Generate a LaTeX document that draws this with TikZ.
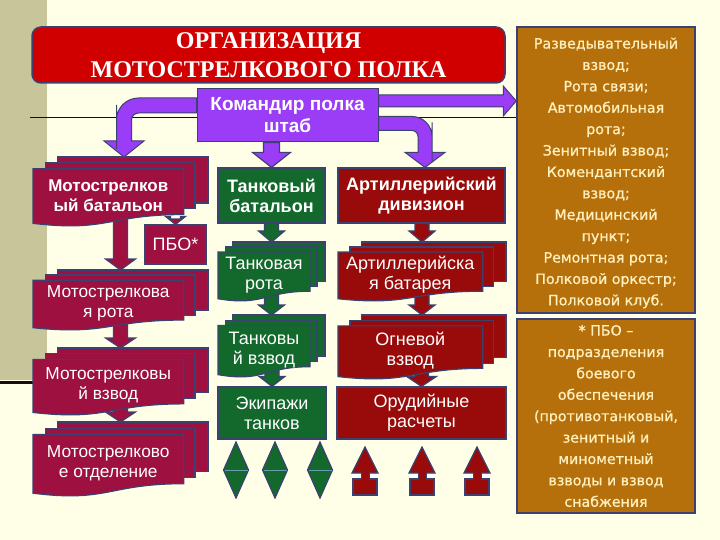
\documentclass[tikz,border=0pt]{standalone}
\usepackage{fontspec}
\setmainfont{Liberation Sans}
\newfontfamily\serifT{Liberation Serif}
\newfontfamily\verd[FakeBold=0.9]{DejaVu Sans}
\usetikzlibrary{calc}
\pgfdeclarelayer{back}
\pgfdeclarelayer{arrows}
\pgfsetlayers{back,arrows,main}
\definecolor{bgc}{HTML}{FFFFE8}
\definecolor{strip}{HTML}{C9C59B}
\definecolor{bd}{HTML}{3B4272}
\definecolor{ttl}{HTML}{D00000}
\definecolor{prp}{HTML}{9B3DF7}
\definecolor{msc}{HTML}{9E1040}
\definecolor{grn}{HTML}{12692B}
\definecolor{art}{HTML}{990A0A}
\definecolor{brn}{HTML}{B5700C}
\definecolor{btx}{HTML}{FFF0BE}
\definecolor{lnc}{HTML}{1E0A0A}
\definecolor{dline}{HTML}{6A9AB0}
\tikzset{
  bx/.style={draw=bd, line width=1.2pt, inner sep=0pt, text=white, align=center, font=\fontsize{18}{20}\selectfont},
  bxb/.style={bx, font=\bfseries\fontsize{18}{20}\selectfont},
  dtxt/.style={text=white, align=center, inner sep=0pt, font=\fontsize{18}{20}\selectfont},
  brbox/.style={draw=bd, fill=brn, line width=1.5pt, text=btx, align=center, inner sep=0pt, font=\verd\fontsize{14.2}{21.4}\selectfont},
  dshape/.style={draw=bd, line width=1.2pt},
}
% multidocument: x y w h fill name text extra
\newcommand\mdoc[8]{%
\begin{scope}[shift={(#1,#2)},x=#3pt,y=-#4pt]
  \filldraw[dshape, fill=#5] (0.138,0) rectangle (1,0.666);
  \filldraw[dshape, fill=#5] (0.071,0.084) rectangle (0.926,0.752);
  \filldraw[dshape, fill=#5] (0,0.17) -- (0.861,0.17) -- (0.861,0.834) .. controls (0.43,0.834) and (0.43,1.09) .. (0,0.962) -- cycle;
  \node[dtxt,#8] (#6) at (0.43,0.56) {#7};
  \coordinate (#6t) at (0.5,0);
  \coordinate (#6b) at (0.5,0.9);
\end{scope}}
% vertical block arrow: from A (y) to B (x, tip y)
\newcommand\varrow[6]{%
  \path[draw=bd, line width=1.2pt, fill=#6] let \p1=(#1), \p2=(#2) in
    (\x2-#3pt,\y1) -- (\x2+#3pt,\y1) -- (\x2+#3pt,\y2+#5pt) -- (\x2+#4pt,\y2+#5pt) -- (\x2,\y2)
    -- (\x2-#4pt,\y2+#5pt) -- (\x2-#3pt,\y2+#5pt) -- cycle;}
\begin{document}
\begin{tikzpicture}[x=1pt,y=-1pt]
\useasboundingbox (0,0) rectangle (720,540);
\begin{pgfonlayer}{back}
  \fill[bgc] (0,0) rectangle (720,540);
  \fill[strip] (0,0) rectangle (47,380);
  \draw[line width=3pt, lnc] (0,382) -- (40,382);
  \draw[line width=1.8pt, lnc] (30,117.5) -- (517,117.5);
\end{pgfonlayer}

% title
\node[draw=bd, line width=1.5pt, fill=ttl, rounded corners=9pt, minimum width=473pt, minimum height=56pt,
      inner sep=0pt, text=white, align=center, font=\serifT\bfseries\fontsize{24}{28.5}\selectfont]
      (title) at (268.5,55) {ОРГАНИЗАЦИЯ\\МОТОСТРЕЛКОВОГО ПОЛКА};
% commander
\node[draw=bd, line width=1pt, fill=prp, minimum width=181pt, minimum height=53pt, inner sep=0pt,
      text=white, align=center, font=\bfseries\fontsize{19}{22}\selectfont]
      (cmd) at (287.5,115.5) {Командир полка\\штаб};
% brown boxes
\node[brbox, minimum width=178pt, minimum height=286pt] (br1) at (606,170) {};
\node[text=btx, align=center, inner sep=0pt, font=\verd\fontsize{14.2}{21.4}\selectfont] (br1t) at (606,173)
  {Разведывательный\\взвод;\\Рота связи;\\Автомобильная\\рота;\\Зенитный взвод;\\Комендантский\\взвод;\\Медицинский\\пункт;\\Ремонтная рота;\\Полковой оркестр;\\Полковой клуб.};
\node[brbox, minimum width=178pt, minimum height=194pt] (br2) at (606,416)
  {* ПБО –\\подразделения\\боевого\\обеспечения\\(противотанковый,\\зенитный и\\минометный\\взводы и взвод\\снабжения};

% plain boxes
\node[bxb, fill=grn, minimum width=107pt, minimum height=55pt] (tb) at (271.5,195.5) {Танковый\\батальон};
\node[bxb, fill=art, minimum width=167pt, minimum height=55pt] (ad) at (421.5,195.5) {Артиллерийский\\дивизион};
\node[bx, fill=grn, minimum width=108pt, minimum height=52pt] (et) at (272,413) {Экипажи\\танков};
\node[bx, fill=art, minimum width=169pt, minimum height=52pt] (or) at (421.5,413) {Орудийные\\расчеты};
\node[bx, fill=msc, minimum width=61pt, minimum height=39pt] (pbo) at (175.5,244.5) {ПБО*};

% stacked documents
\mdoc{33}{157}{175}{69}{msc}{msb}{Мотострелков\\ый батальон}{font=\bfseries\fontsize{17}{20}\selectfont}
\mdoc{33}{270}{175}{60}{msc}{msr}{Мотострелкова\\я рота}{font=\fontsize{17.3}{20}\selectfont}
\mdoc{33}{348}{175}{67}{msc}{msv}{Мотострелковы\\й взвод}{font=\fontsize{17.3}{20}\selectfont}
\mdoc{33}{422}{175}{74}{msc}{mso}{Мотострелково\\е отделение}{font=\fontsize{17.3}{20}\selectfont}
\mdoc{218}{242}{107}{59}{grn}{tr}{Танковая\\рота}{}
\mdoc{218}{315}{107}{62}{grn}{tv}{Танковы\\й взвод}{}
\mdoc{338}{242}{168}{59}{art}{ab}{Артиллерийска\\я батарея}{}
\mdoc{338}{315}{168}{64}{art}{ov}{Огневой\\взвод}{}

% symbols
\foreach \c in {236,275,320} {
  \filldraw[dshape, fill=grn] (\c,442) -- (\c+12.5,470) -- (\c,498) -- (\c-12.5,470) -- cycle;
  \draw[line width=1pt, dline] (\c-11.5,470) -- (\c+11.5,470);
}
\foreach \c in {365,422,477} {
  \filldraw[dshape, fill=art] (\c-12,479) rectangle (\c+12,495);
  \filldraw[dshape, fill=art] (\c,447) -- (\c+13,473) -- (\c-13,473) -- cycle;
  \fill[white] (\c-12,474) rectangle (\c-5,478);
  \fill[white] (\c+5,474) rectangle (\c+12,478);
  \fill[art] (\c-4,472) rectangle (\c+4,486);
  \draw[bd, line width=1pt] (\c-4,473) -- (\c-4,479) (\c+4,473) -- (\c+4,479);
}

\begin{pgfonlayer}{arrows}
  % purple arrows
  \path[draw=bd, line width=1pt, fill=prp] let \p1=($(cmd.west)+(0,-10)$), \p2=($(msbt)+(3.5,0)$) in
    (\x1,\y1+7.5pt) -- (\x2+30pt,\y1+7.5pt) [rounded corners=22pt] -- (\x2-7.5pt,\y1+7.5pt)
    -- (\x2-7.5pt,\y2+30pt) [sharp corners] -- (\x2-7.5pt,\y2+16pt) -- (\x2-20pt,\y2+16pt) -- (\x2,\y2)
    -- (\x2+20pt,\y2+16pt) -- (\x2+7.5pt,\y2+16pt) -- (\x2+7.5pt,\y2+30pt) [rounded corners=7pt]
    -- (\x2+7.5pt,\y1-7.5pt) -- (\x2+30pt,\y1-7.5pt) [sharp corners] -- (\x1,\y1-7.5pt) -- cycle;
  \path[draw=bd, line width=1pt, fill=prp] let \p1=($(cmd.east)+(0,8)$), \p2=($(ad.north)+(3.5,0)$) in
    (\x1,\y1+7pt) -- (\x2-30pt,\y1+7pt) [rounded corners=20pt] -- (\x2+7pt,\y1+7pt)
    -- (\x2+7pt,\y2+25pt) [sharp corners] -- (\x2+7pt,\y2+15pt) -- (\x2+20pt,\y2+15pt) -- (\x2,\y2)
    -- (\x2-20pt,\y2+15pt) -- (\x2-7pt,\y2+15pt) -- (\x2-7pt,\y2+25pt) [rounded corners=6pt]
    -- (\x2-7pt,\y1-7pt) -- (\x2-30pt,\y1-7pt) [sharp corners] -- (\x1,\y1-7pt) -- cycle;
  \path[draw=bd, line width=1pt, fill=prp] let \p1=($(cmd.east)+(0,-14.5)$), \p2=(br1.west) in
    (\x1,\y1+6pt) -- (\x2-13pt,\y1+6pt) -- (\x2-13pt,\y1+15pt) -- (\x2,\y1)
    -- (\x2-13pt,\y1-15pt) -- (\x2-13pt,\y1-6pt) -- (\x1,\y1-6pt) -- cycle;
  \varrow{cmd.south}{tb.north}{8}{19}{15}{prp}
  % column arrows
  \varrow{msbb}{msrt}{7}{15}{11}{msc}
  \varrow{msbb}{pbo.north}{5}{10}{8}{msc}
  \varrow{msrb}{msvt}{7}{15}{10}{msc}
  \varrow{msvb}{msot}{7}{15}{10}{msc}
  \varrow{tb.south}{trt}{7}{13}{11}{grn}
  \varrow{trb}{tvt}{7}{13}{10}{grn}
  \varrow{tvb}{et.north}{7}{13}{10}{grn}
  \varrow{ad.south}{abt}{7}{13}{11}{art}
  \varrow{abb}{ovt}{7}{13}{10}{art}
  \varrow{ovb}{or.north}{7}{15}{10}{art}
\end{pgfonlayer}
\end{tikzpicture}
\end{document}
